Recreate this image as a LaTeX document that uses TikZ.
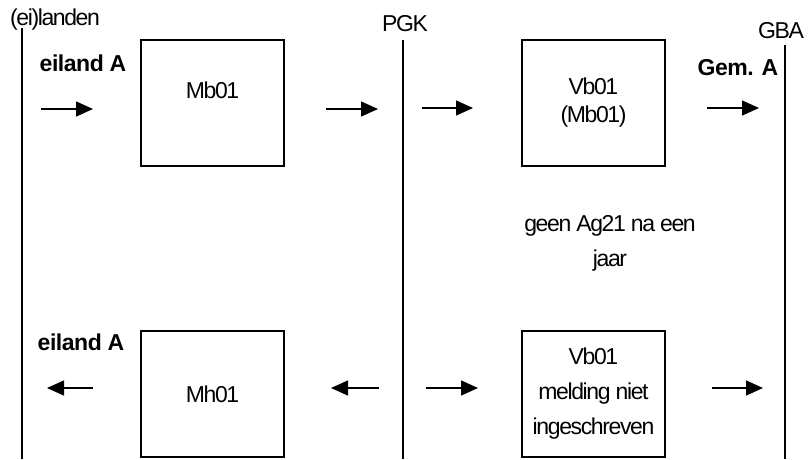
\documentclass[tikz,border=0pt]{standalone}
\usepackage{fontspec}
\setmainfont{Liberation Sans}[LetterSpace=-6]
\newfontfamily\boldf{Liberation Sans}[LetterSpace=-2]
\usetikzlibrary{arrows.meta,calc}
\tikzset{
  lifeline/.style={line width=1.1pt},
  msgbox/.style={draw,line width=1.1pt,minimum width=143pt,minimum height=126pt,inner sep=0pt},
  lbl/.style={font=\fontsize{23}{28}\selectfont,align=center,inner sep=0pt},
  lblwide/.style={font=\fontsize{23}{35}\selectfont,align=center,inner sep=0pt},
  boldlbl/.style={font=\fontsize{23}{26}\boldf\bfseries,inner sep=0pt},
  flow/.style={line width=1.3pt,-{Triangle[length=17pt,width=15pt]}}
}
\begin{document}
\begin{tikzpicture}[x=1pt,y=-1pt]
\useasboundingbox (0,0) rectangle (810,459);
% lifelines
\coordinate (l1t) at (22,28);  \coordinate (l1b) at (22,459);
\coordinate (l2t) at (403,40); \coordinate (l2b) at (403,459);
\coordinate (l3t) at (785,45); \coordinate (l3b) at (785,459);
\draw[lifeline] (l1t) -- (l1b);
\draw[lifeline] (l2t) -- (l2b);
\draw[lifeline] (l3t) -- (l3b);
% headers
\node[lbl] (h1) at (55,20) {(ei)landen};
\node[lbl] (h2) at (405,24) {PGK};
\node[lbl] (h3) at (781,31) {GBA};
% labels
\node[boldlbl] (e1) at (83,63) {eiland A};
\node[boldlbl] (e2) at (81,342) {eiland A};
\node[boldlbl] (g1) at (738,68) {Gem. A};
\node[lblwide] (note) at (610,243) {geen Ag21 na een\\jaar};
% boxes
\node[msgbox] (mb) at (212.5,103) {};
\node[lbl] (mbt) at ($(mb.center)+(0,-13)$) {Mb01};
\node[msgbox,lbl] (vb) at (593.5,103) {Vb01\\(Mb01)};
\node[msgbox,lbl] (mh) at (212.5,394) {Mh01};
\node[msgbox,lblwide] (vb2) at (593.5,394) {Vb01\\melding niet\\ingeschreven};
% arrows
\coordinate (a1s) at (41,109);  \coordinate (a1e) at (93,109);
\coordinate (a2s) at (326,109); \coordinate (a2e) at (378,109);
\coordinate (a3s) at (422,108); \coordinate (a3e) at (473,108);
\coordinate (a4s) at (707,108); \coordinate (a4e) at (759,108);
\coordinate (a5s) at (93,388);  \coordinate (a5e) at (47,388);
\coordinate (a6s) at (379,388); \coordinate (a6e) at (331,388);
\coordinate (a7s) at (426,388); \coordinate (a7e) at (478,388);
\coordinate (a8s) at (712,388); \coordinate (a8e) at (763,388);
\draw[flow] (a1s) -- (a1e);
\draw[flow] (a2s) -- (a2e);
\draw[flow] (a3s) -- (a3e);
\draw[flow] (a4s) -- (a4e);
\draw[flow] (a5s) -- (a5e);
\draw[flow] (a6s) -- (a6e);
\draw[flow] (a7s) -- (a7e);
\draw[flow] (a8s) -- (a8e);
\end{tikzpicture}
\end{document}
